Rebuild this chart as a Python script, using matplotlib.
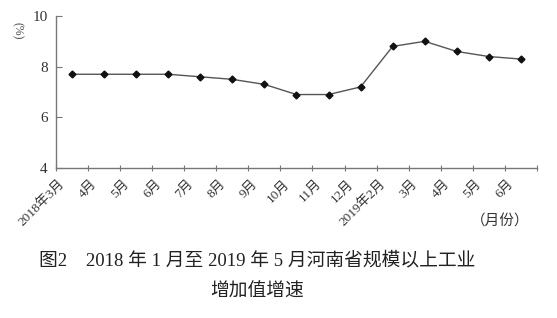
import matplotlib
matplotlib.use("Agg")
import numpy as np
import matplotlib.pyplot as plt

plt.rcParams['font.family'] = ['Liberation Serif', 'Noto Sans CJK SC']

# data
months = ['2018年3月', '4月', '5月', '6月', '7月', '8月', '9月', '10月', '11月',
          '12月', '2019年2月', '3月', '4月', '5月', '6月']
growth = [7.7, 7.7, 7.7, 7.7, 7.6, 7.5, 7.3, 6.9, 6.9, 7.2, 8.8, 9.0, 8.6, 8.4, 8.3]
yticks = [4, 6, 8, 10]

fig = plt.figure(figsize=(5.57, 3.18), dpi=100)
ax = fig.add_axes([0.1005, 0.4717, 0.8635, 0.478])

x = np.arange(len(months)) + 0.5
ax.plot(x, growth, color='#555555', lw=1.0, marker='D', ms=3.5,
        mfc='#111111', mec='#111111', zorder=3)

ax.set_xlim(0, len(months))
ax.set_ylim(4, 10)
ax.set_yticks(yticks)
ax.tick_params(axis='y', direction='in', length=4, color='#777777',
               labelsize=11, pad=6, labelcolor='#333333')

# tick marks at category boundaries, labels at centres
ax.set_xticks(np.arange(len(months) + 1))
ax.set_xticklabels([])
ax.tick_params(axis='x', which='major', direction='inout', length=4, color='#777777')
ax.set_xticks(x - 0.15, minor=True)
ax.set_xticklabels(months, minor=True, rotation=45, ha='right', va='top',
                   fontsize=9.5, color='#333333')
ax.tick_params(axis='x', which='minor', length=0, pad=7)

for s in ['top', 'right']:
    ax.spines[s].set_visible(False)
for s in ['left', 'bottom']:
    ax.spines[s].set_color('#777777')
    ax.spines[s].set_linewidth(1.0)

fig.text(17 / 557, 1 - 31 / 318, '(%)', rotation=270, ha='center', va='center',
         fontsize=8.5, color='#444444')
fig.text(500 / 557, 1 - 222 / 318, '（月份）', ha='center', va='center',
         fontsize=10.5, color='#333333')
fig.text(257 / 557, 1 - 260 / 318, '图2　2018 年 1 月至 2019 年 5 月河南省规模以上工业',
         ha='center', va='center', fontsize=13.5, color='#222222')
fig.text(257 / 557, 1 - 292 / 318, '增加值增速', ha='center', va='center',
         fontsize=13.5, color='#222222')

fig.savefig('out.png', dpi=100, facecolor='white')
